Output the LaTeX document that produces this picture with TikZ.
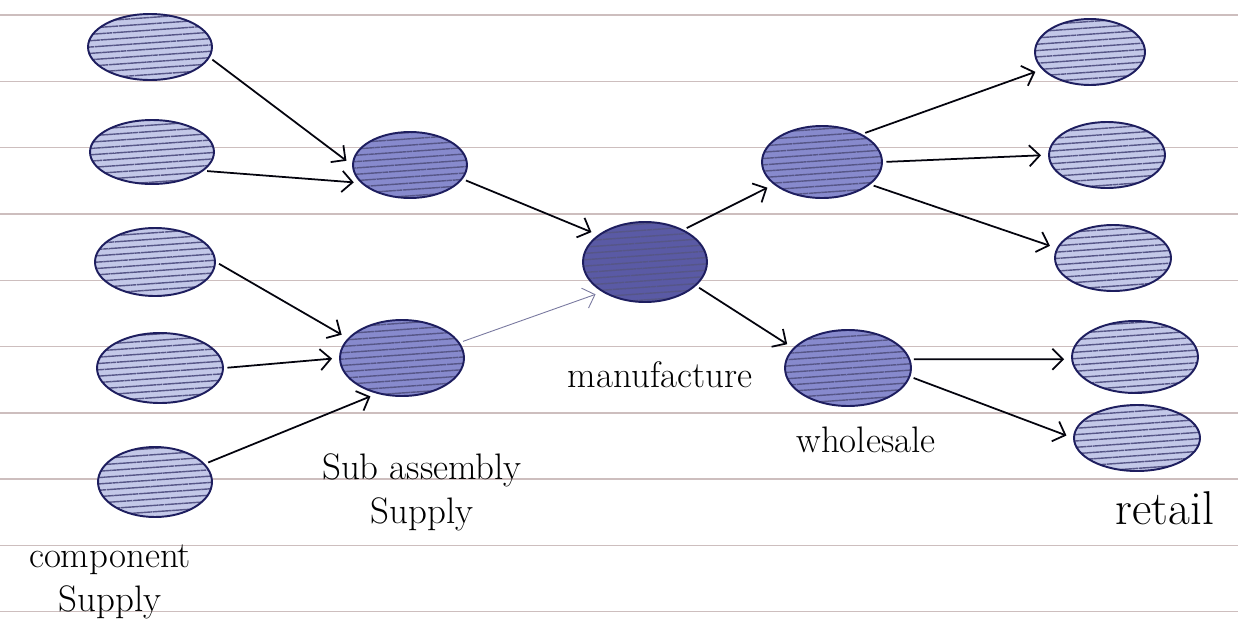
\documentclass[tikz,border=0pt]{standalone}
\usetikzlibrary{shapes.geometric,arrows.meta,patterns.meta}
\definecolor{ink}{RGB}{30,30,95}
\definecolor{paleblob}{RGB}{195,200,232}
\definecolor{midblob}{RGB}{135,138,205}
\definecolor{darkblob}{RGB}{90,90,165}
\definecolor{ruled}{RGB}{205,190,190}
\begin{document}
\begin{tikzpicture}[x=0.02cm,y=-0.02cm,
    blob/.style={ellipse,draw=ink,line width=1.1pt,inner sep=0pt,
      preaction={fill=#1},pattern={Lines[angle=4,distance=3.6pt,line width=0.8pt]},
      pattern color=ink!75},
    blob/.default=paleblob,
    feed/.style={-{Straight Barb[length=6pt,width=12pt]},line width=1pt,
      draw=black!85!ink,shorten >=4pt,shorten <=2pt},
    lbl/.style={font=\fontsize{21}{25}\selectfont,align=center,inner sep=0pt}]
  \useasboundingbox[fill=white] (0,0) rectangle (1238,643);
  \foreach \k in {0,...,9}
    \draw[ruled,line width=0.8pt] (0,15+66.3*\k) -- (1238,15+66.3*\k);
  \draw
    (150,47) node[blob,minimum width=2.48cm,minimum height=1.32cm] (c1){}
    (152,152) node[blob,minimum width=2.48cm,minimum height=1.28cm] (c2){}
    (155,262) node[blob,minimum width=2.4cm,minimum height=1.36cm] (c3){}
    (160,368) node[blob,minimum width=2.52cm,minimum height=1.4cm] (c4){}
    (155,482) node[blob,minimum width=2.28cm,minimum height=1.4cm] (c5){}
    (410,165) node[blob=midblob,minimum width=2.28cm,minimum height=1.32cm] (s1){}
    (402,358) node[blob=midblob,minimum width=2.48cm,minimum height=1.52cm] (s2){}
    (645,262) node[blob=darkblob,minimum width=2.48cm,minimum height=1.6cm] (m){}
    (822,162) node[blob=midblob,minimum width=2.4cm,minimum height=1.44cm] (w1){}
    (848,368) node[blob=midblob,minimum width=2.52cm,minimum height=1.52cm] (w2){}
    (1090,52) node[blob,minimum width=2.2cm,minimum height=1.32cm] (r1){}
    (1107,155) node[blob,minimum width=2.32cm,minimum height=1.32cm] (r2){}
    (1113,258) node[blob,minimum width=2.32cm,minimum height=1.32cm] (r3){}
    (1135,357) node[blob,minimum width=2.52cm,minimum height=1.44cm] (r4){}
    (1137,438) node[blob,minimum width=2.52cm,minimum height=1.32cm] (r5){};
  \draw
    (110,582) node[lbl] (compsup){component\\Supply}
    (422,492) node[lbl] (subsup){Sub assembly\\Supply}
    (660,375) node[lbl] (manu){manufacture}
    (866,440) node[lbl] (whole){wholesale}
    (1165,508) node[lbl,font=\fontsize{27}{30}\selectfont] (ret){retail};
  \begin{scope}[feed]
    \draw (c1.-10) to (s1.west);
    \draw (c2.-20) to (s1.200);
    \draw (c3.east) to (s2.160);
    \draw (c4.east) to (s2.west);
    \draw (c5.20) to (s2.235);
    \draw (s1.-15) to (m.150);
    \draw[line width=0.5pt,draw=ink!60] (s2.15) to (m.215);
    \draw (m.40) to (w1.205);
    \draw (m.-25) to (w2.160);
    \draw (w1.35) to (r1.200);
    \draw (w1.east) to (r2.west);
    \draw (w1.-25) to (r3.170);
    \draw (w2.8) to (r4.182);
    \draw (w2.-8) to (r5.west);
  \end{scope}
\end{tikzpicture}
\end{document}
